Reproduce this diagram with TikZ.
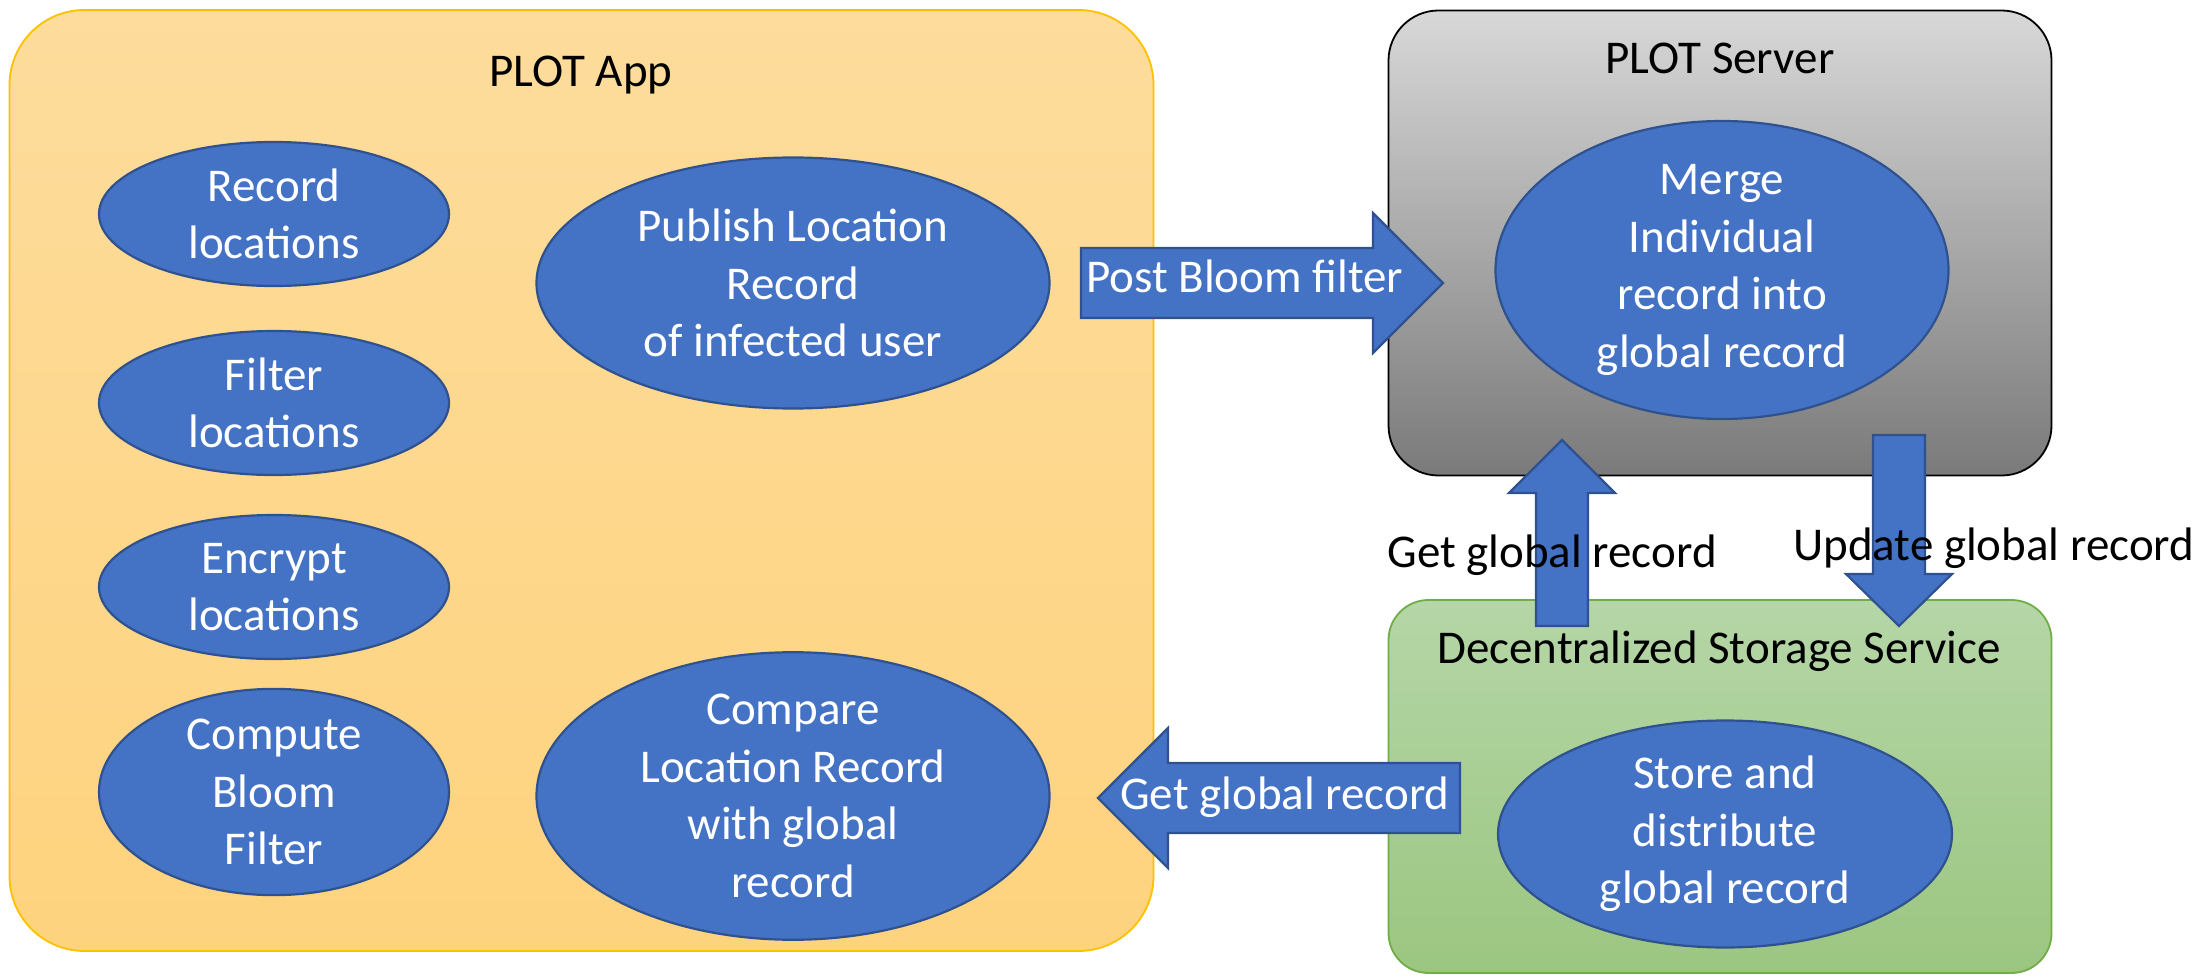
\documentclass[tikz,border=0pt]{standalone}
\usepackage{fontspec}
\setmainfont{Carlito}
\usetikzlibrary{shapes.geometric}
\definecolor{appTop}{HTML}{FDDC9C}
\definecolor{appBot}{HTML}{FED37E}
\definecolor{appLine}{HTML}{FFC000}
\definecolor{srvTop}{HTML}{D8D8D8}
\definecolor{srvBot}{HTML}{7A7A7A}
\definecolor{grnTop}{HTML}{B5D6A7}
\definecolor{grnBot}{HTML}{9BC680}
\definecolor{grnLine}{HTML}{70AD47}
\definecolor{ellBlue}{HTML}{4472C4}
\definecolor{ellLine}{HTML}{2F528F}
\begin{document}
\begin{tikzpicture}[x=1pt,y=-1pt,
  bigfont/.style={font=\fontsize{47}{57.5}\selectfont},
  container/.style={rectangle, inner sep=0pt, line width=1.8pt},
  proc/.style={ellipse, draw=ellLine, line width=2.2pt, fill=ellBlue,
    text=white, align=center, inner sep=0pt, bigfont},
  blockarrow/.style={draw=ellLine, line width=2.2pt, fill=ellBlue, line join=miter},
  title/.style={anchor=base, inner sep=0pt, text=black, bigfont},
  arrowlabel/.style={anchor=base west, inner sep=0pt, text=white, bigfont},
  sidelabel/.style={inner sep=0pt, text=black, bigfont}
]
\useasboundingbox (0,0) rectangle (2205,976);

% containers
\node[container, draw=appLine, top color=appTop, bottom color=appBot,
  rounded corners=75pt, minimum width=1144pt, minimum height=941pt]
  (app) at (581.5,480.5) {};
\node[container, draw=black, top color=srvTop, bottom color=srvBot,
  rounded corners=50pt, minimum width=663pt, minimum height=465pt]
  (server) at (1720,243) {};
\node[container, draw=grnLine, top color=grnTop, bottom color=grnBot,
  rounded corners=40pt, minimum width=663pt, minimum height=373pt]
  (store) at (1720,786.5) {};

% titles
\node[title] (appT) at (581,87) {PLOT App};
\node[title] (srvT) at (1720,74) {PLOT Server};
\node[title] (stoT) at (1719,663) {Decentralized Storage Service};

% processes
\node[proc, minimum width=350pt, minimum height=144pt] (rec) at (274,214) {Record\\locations};
\node[proc, minimum width=350pt, minimum height=144pt] (fil) at (274,403) {Filter\\locations};
\node[proc, minimum width=350pt, minimum height=144pt] (enc) at (274,587) {Encrypt\\locations};
\node[proc, minimum width=350pt, minimum height=186pt] (com) at (274,792) {Compute\\Bloom\\Filter};
\node[proc, minimum width=513pt, minimum height=251pt] (pub) at (793,283) {Publish Location\\Record\\of infected user};
\node[proc, minimum width=513pt, minimum height=251pt] (cmp) at (793,796) {Compare\\Location Record\\with global\\record};
\node[proc, minimum width=453pt, minimum height=283pt] (mer) at (1722,270) {Merge\\Individual\\record into\\global record};
\node[proc, minimum width=454pt, minimum height=227pt] (sto) at (1725,834) {Store and\\distribute\\global record};

% block arrows
\draw[blockarrow] (1081,248) -- (1373,248) -- (1373,213) -- (1443,283)
  -- (1373,353) -- (1373,318) -- (1081,318) -- cycle;
\draw[blockarrow] (1460,763) -- (1168,763) -- (1168,728) -- (1098,798)
  -- (1168,868) -- (1168,833) -- (1460,833) -- cycle;
\draw[blockarrow] (1536,626) -- (1536,493) -- (1509,493) -- (1562,440)
  -- (1615,493) -- (1588,493) -- (1588,626) -- cycle;
\draw[blockarrow] (1873,435) -- (1873,574) -- (1846,574) -- (1899,626)
  -- (1952,574) -- (1925,574) -- (1925,435) -- cycle;

% arrow labels
\node[arrowlabel] (postL) at (1086,293) {Post Bloom filter};
\node[arrowlabel] (getL) at (1120,809) {Get global record};
\node[sidelabel, anchor=base] (getS) at (1552,567) {Get global record};
\node[sidelabel, anchor=base west] (updS) at (1793,560) {Update global record};
\end{tikzpicture}
\end{document}
